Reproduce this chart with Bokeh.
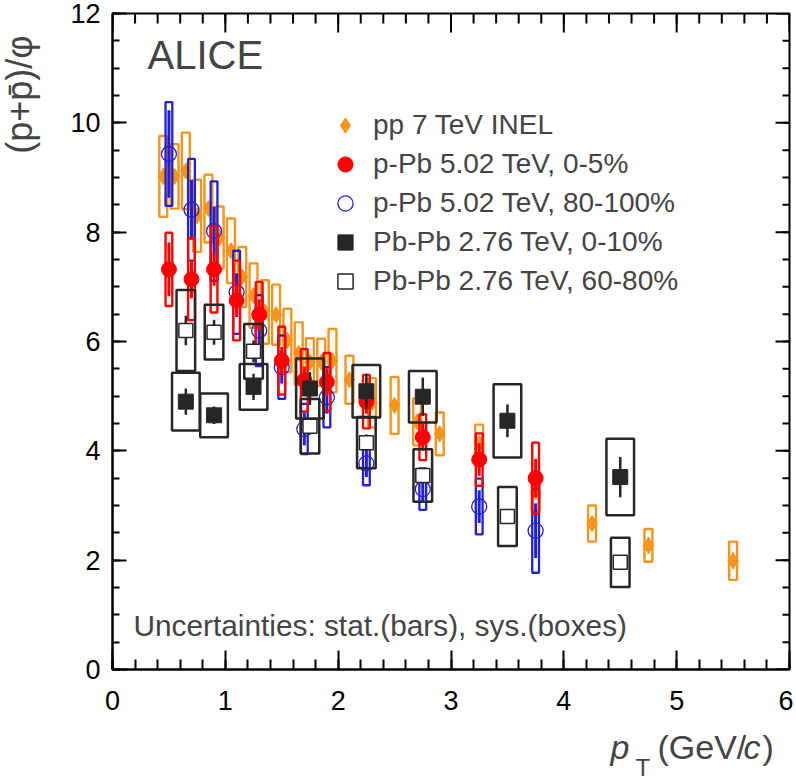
import math
from bokeh.plotting import figure
from bokeh.models import (ColumnDataSource, Range1d, LinearAxis, SingleIntervalTicker,
                          Label, Legend, LegendItem)
from bokeh.layouts import row, column
from bokeh.embed import file_html
from bokeh.resources import INLINE

# ---------------- data ----------------
pp_pt = [0.45, 0.55, 0.65, 0.75, 0.85, 0.95, 1.05, 1.15, 1.25, 1.35, 1.45, 1.55, 1.65,
         1.75, 1.85, 1.95, 2.1, 2.3, 2.5, 2.7, 2.9, 3.25, 3.75, 4.25, 4.75, 5.5]
pp_ratio = [9.02, 9.02, 9.12, 8.30, 8.43, 7.90, 7.66, 7.18, 6.84, 6.54, 6.49, 6.02, 5.78,
            5.62, 5.62, 5.65, 5.30, 4.88, 4.83, 4.53, 4.31, 4.13, 3.25, 2.67, 2.27, 1.99]
pp_stat = [0.15, 0.12, 0.12, 0.12, 0.10, 0.10, 0.10, 0.10, 0.10, 0.10, 0.10, 0.10, 0.10,
           0.10, 0.10, 0.10, 0.08, 0.08, 0.08, 0.10, 0.10, 0.10, 0.12, 0.12, 0.15, 0.15]
pp_sys = [0.74, 0.59, 0.70, 0.66, 0.62, 0.57, 0.59, 0.55, 0.59, 0.58, 0.55, 0.58, 0.57,
          0.44, 0.43, 0.58, 0.44, 0.45, 0.52, 0.43, 0.39, 0.35, 0.35, 0.33, 0.30, 0.35]

ppb_pt = [0.5, 0.7, 0.9, 1.1, 1.3, 1.5, 1.7, 1.9, 2.25, 2.75, 3.25, 3.75]
ppb_c_ratio = [7.32, 7.14, 7.32, 6.75, 6.49, 5.65, 5.29, 5.26, 4.90, 4.25, 3.84, 3.50]
ppb_c_stat = [0.49, 0.35, 0.30, 0.30, 0.28, 0.25, 0.25, 0.25, 0.22, 0.25, 0.30, 0.35]
ppb_c_sys = [0.67, 0.75, 0.79, 0.73, 0.60, 0.62, 0.57, 0.53, 0.49, 0.42, 0.48, 0.65]

ppb_p_ratio = [9.43, 8.41, 8.02, 6.90, 6.20, 5.53, 4.40, 4.98, 3.77, 3.30, 2.98, 2.54]
ppb_p_stat = [0.80, 0.55, 0.45, 0.35, 0.30, 0.30, 0.30, 0.30, 0.25, 0.25, 0.30, 0.50]
ppb_p_sys = [0.95, 0.93, 0.91, 0.76, 0.65, 0.58, 0.46, 0.55, 0.40, 0.38, 0.51, 0.77]

pbpb_pt = [0.65, 0.9, 1.25, 1.75, 2.25, 2.75, 3.5, 4.5]
pbpb_c_ratio = [4.90, 4.65, 5.17, 5.14, 5.09, 4.99, 4.55, 3.52]
pbpb_c_stat = [0.24, 0.16, 0.24, 0.30, 0.32, 0.35, 0.30, 0.37]
pbpb_c_sys = [0.53, 0.40, 0.42, 0.55, 0.48, 0.47, 0.67, 0.70]

pbpb_p_ratio = [6.20, 6.17, 5.82, 4.45, 4.15, 3.55, 2.80, 1.96]
pbpb_p_stat = [0.27, 0.23, 0.20, 0.15, 0.15, 0.12, 0.12, 0.10]
pbpb_p_sys = [0.74, 0.50, 0.50, 0.50, 0.47, 0.48, 0.54, 0.45]

labels = ["pp 7 TeV INEL", "p-Pb 5.02 TeV, 0-5%", "p-Pb 5.02 TeV, 80-100%",
          "Pb-Pb 2.76 TeV, 0-10%", "Pb-Pb 2.76 TeV, 60-80%"]

x_range_ends = (0, 6)
y_range_ends = (0, 12)
x_major_step, x_minor_per_major = 1, 5
y_major_step, y_minor_per_major = 2, 4

# ---------------- styles ----------------
ORANGE = "#F7941D"
RED = "#FF0000"
BLUE = "#2020D8"
DARK = "#262626"
FONT = "Liberation Sans"

p = figure(width=745, height=722, x_range=Range1d(*x_range_ends), y_range=Range1d(*y_range_ends),
           output_backend="svg", toolbar_location=None,
           min_border_left=64, min_border_right=4, min_border_top=13, min_border_bottom=53,
           x_axis_location=None, y_axis_location=None)
p.grid.visible = False
p.outline_line_color = "black"
p.outline_line_width = 2
p.background_fill_color = "white"
p.border_fill_color = "white"

xt = SingleIntervalTicker(interval=x_major_step, num_minor_ticks=x_minor_per_major)
yt = SingleIntervalTicker(interval=y_major_step, num_minor_ticks=y_minor_per_major)


def style_axis(ax, major_in, minor_in):
    ax.axis_line_width = 2
    ax.axis_line_color = "black"
    ax.major_tick_line_width = 2
    ax.minor_tick_line_width = 2
    ax.major_tick_in = major_in
    ax.major_tick_out = 0
    ax.minor_tick_in = minor_in
    ax.minor_tick_out = 0
    ax.major_label_text_font = FONT
    ax.major_label_text_font_size = "27px"
    ax.major_label_text_color = "black"


xb = LinearAxis(ticker=xt)
style_axis(xb, 19, 10)
xb.major_label_standoff = 21
yl = LinearAxis(ticker=yt)
style_axis(yl, 14, 7)
yl.major_label_standoff = 12
p.add_layout(xb, "below")
p.add_layout(yl, "left")

# ticks on the top and right frame edges (mirror of the axes), clipped to the frame
x_major = [x_range_ends[0] + i * x_major_step for i in range(7)]
x_minor = [x_range_ends[0] + i * x_major_step / x_minor_per_major for i in range(31)]
y_major = [y_range_ends[0] + i * y_major_step for i in range(7)]
y_minor = [y_range_ends[0] + i * y_major_step / y_minor_per_major for i in range(25)]
p.scatter(x=x_minor, y=[y_range_ends[1]] * len(x_minor), marker="dash", size=20,
          angle=math.pi / 2, line_color="black", line_width=2)
p.scatter(x=x_major, y=[y_range_ends[1]] * len(x_major), marker="dash", size=38,
          angle=math.pi / 2, line_color="black", line_width=2)
p.scatter(x=[x_range_ends[1]] * len(y_minor), y=y_minor, marker="dash", size=14,
          line_color="black", line_width=2)
p.scatter(x=[x_range_ends[1]] * len(y_major), y=y_major, marker="dash", size=28,
          line_color="black", line_width=2)


def make_src(x, y, stat, sys):
    return ColumnDataSource(dict(
        x=x, y=y,
        lo=[a - b for a, b in zip(y, stat)], hi=[a + b for a, b in zip(y, stat)],
        bot=[a - b for a, b in zip(y, sys)], top=[a + b for a, b in zip(y, sys)]))


def draw(src, color, box_w, box_lw, bar_lw, marker, size, fill, mlw):
    p.vbar(x="x", width=box_w, bottom="bot", top="top", source=src,
           fill_color=None, line_color=color, line_width=box_lw)
    p.segment(x0="x", y0="lo", x1="x", y1="hi", source=src, line_color=color, line_width=bar_lw)
    return p.scatter(x="x", y="y", source=src, marker=marker, size=size,
                     fill_color=fill, line_color=color, line_width=mlw)


r_pp = draw(make_src(pp_pt, pp_ratio, pp_stat, pp_sys), ORANGE, 0.07, 2.4, 2, "diamond", 16, ORANGE, 1)
r_pb = draw(make_src(ppb_pt, ppb_p_ratio, ppb_p_stat, ppb_p_sys), BLUE, 0.06, 2.3, 3, "circle", 15, None, 1.3)
r_pc = draw(make_src(ppb_pt, ppb_c_ratio, ppb_c_stat, ppb_c_sys), RED, 0.06, 2.4, 3, "circle", 15, RED, 1)
r_bc = draw(make_src(pbpb_pt, pbpb_c_ratio, pbpb_c_stat, pbpb_c_sys), DARK, 0.245, 2.5, 2.5, "square", 15, DARK, 1)
r_bp = draw(make_src(pbpb_pt, pbpb_p_ratio, pbpb_p_stat, pbpb_p_sys), DARK, 0.165, 2.5, 2.5, "square", 14, "white", 1.5)

legend = Legend(items=[LegendItem(label=labels[0], renderers=[r_pp]),
                       LegendItem(label=labels[1], renderers=[r_pc]),
                       LegendItem(label=labels[2], renderers=[r_pb]),
                       LegendItem(label=labels[3], renderers=[r_bc]),
                       LegendItem(label=labels[4], renderers=[r_bp])],
                location=(214, 369), padding=0, margin=0, spacing=1,
                glyph_width=38, glyph_height=38, label_standoff=9,
                label_text_font=FONT, label_text_font_size="28px",
                border_line_color=None, background_fill_alpha=0)
p.add_layout(legend, "center")

p.add_layout(Label(x=35, y=615, x_units="screen", y_units="screen", text="ALICE",
                   text_font=FONT, text_font_size="40px", text_baseline="alphabetic"))
p.add_layout(Label(x=21, y=44, x_units="screen", y_units="screen",
                   text="Uncertainties: stat.(bars), sys.(boxes)",
                   text_font=FONT, text_font_size="29.8px", text_baseline="alphabetic"))


def blank_fig(w, h):
    f = figure(width=w, height=h, x_range=Range1d(0, 1), y_range=Range1d(0, 1),
               output_backend="svg", toolbar_location=None,
               min_border_left=0, min_border_right=0, min_border_top=0, min_border_bottom=0,
               x_axis_location=None, y_axis_location=None)
    f.grid.visible = False
    f.outline_line_color = None
    f.background_fill_color = "white"
    f.border_fill_color = "white"
    return f


# y axis title (left strip)
py_ = blank_fig(48, 782)
py_.add_layout(Label(x=19, y=688, x_units="screen", y_units="screen", text="(p+p\u0304)/\u03c6",
                     angle=math.pi / 2, text_align="center", text_baseline="alphabetic",
                     text_font=FONT, text_font_size="36px"))

# x axis title (bottom strip; its frame is aligned with the main frame)
px_ = blank_fig(745, 60)
px_.add_layout(Label(x=498, y=36, x_units="screen", y_units="screen", text="p",
                     text_font=FONT, text_font_size="34px", text_font_style="italic",
                     text_baseline="alphabetic"))
px_.add_layout(Label(x=523, y=15, x_units="screen", y_units="screen", text="T",
                     text_font=FONT, text_font_size="24px", text_baseline="alphabetic"))
px_.add_layout(Label(x=545, y=36, x_units="screen", y_units="screen", text="(GeV/",
                     text_font=FONT, text_font_size="34px", text_baseline="alphabetic"))
px_.add_layout(Label(x=631, y=36, x_units="screen", y_units="screen", text="c",
                     text_font=FONT, text_font_size="34px", text_font_style="italic",
                     text_baseline="alphabetic"))
px_.add_layout(Label(x=650, y=36, x_units="screen", y_units="screen", text=")",
                     text_font=FONT, text_font_size="34px", text_baseline="alphabetic"))

layout = row(py_, column(p, px_))
open("out.html", "w").write(file_html(layout, INLINE))
